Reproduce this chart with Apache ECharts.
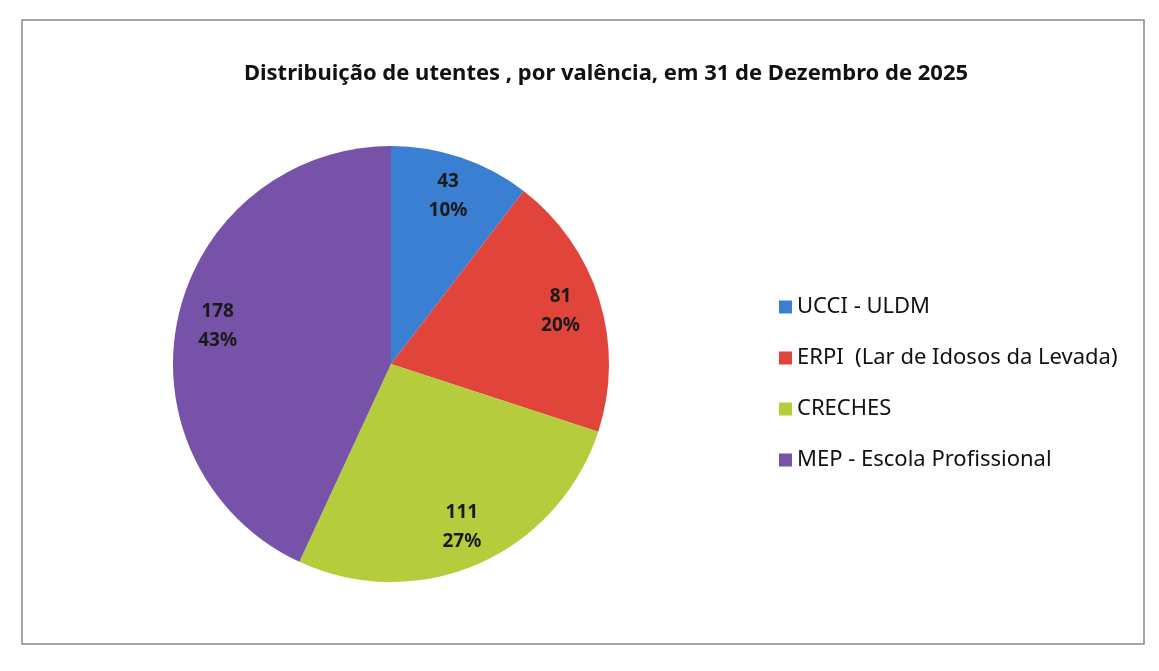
<!DOCTYPE html>
<html>
<head>
<meta charset="utf-8">
<script src="https://cdn.jsdelivr.net/npm/echarts@6/dist/echarts.min.js"></script>
<style>
  html, body { margin: 0; padding: 0; background: #fff; }
  #main { width: 1159px; height: 671px; }
</style>
</head>
<body>
<div id="main"></div>
<script>
const categories = ['UCCI - ULDM', 'ERPI  (Lar de Idosos da Levada)', 'CRECHES', 'MEP - Escola Profissional']
const values = [43, 81, 111, 178]
const colors = ['#3b7fd2', '#e0443a', '#b5cd3c', '#7652a9']

const pieData = categories.map((name, i) => ({ name: name, value: values[i] }))

const chart = echarts.init(document.getElementById('main'))
const option = {
  backgroundColor: '#fff',
  title: {
    text: 'Distribuição de utentes , por valência, em 31 de Dezembro de 2025',
    left: 601,
    top: 58,
    textAlign: 'center',
    textStyle: {
      fontFamily: 'Noto Sans',
      fontSize: 22,
      fontWeight: 'bold',
      color: '#111'
    }
  },
  color: colors,
  legend: {
    orient: 'vertical',
    left: 774,
    top: 291,
    icon: 'rect',
    itemWidth: 13,
    itemHeight: 13,
    itemGap: 29,
    data: categories,
    textStyle: {
      fontFamily: 'Noto Sans',
      fontSize: 22,
      color: '#111'
    }
  },
  graphic: [
    {
      type: 'rect',
      shape: { x: 22, y: 20, width: 1122, height: 624 },
      style: { fill: 'none', stroke: '#888', lineWidth: 1.5 }
    }
  ],
  series: [
    {
      // coloured slices
      name: 'utentes',
      type: 'pie',
      center: [391, 364],
      radius: [0, 218],
      startAngle: 90,
      clockwise: true,
      label: { show: false },
      labelLine: { show: false },
      itemStyle: { borderWidth: 0 },
      emphasis: { disabled: true },
      data: pieData
    },
    {
      // transparent ring that only carries the labels at ~0.8 r
      name: 'labels',
      type: 'pie',
      center: [391, 364],
      radius: [131, 218],
      startAngle: 90,
      clockwise: true,
      silent: true,
      percentPrecision: 0,
      itemStyle: { color: 'rgba(0,0,0,0)', borderWidth: 0 },
      label: {
        show: true,
        position: 'inside',
        formatter: '{c}\n{d}%',
        fontFamily: 'Noto Sans',
        fontSize: 19,
        fontWeight: 'bold',
        lineHeight: 29,
        color: '#1a1a1a'
      },
      labelLine: { show: false },
      emphasis: { disabled: true },
      data: pieData
    }
  ]
}
chart.setOption(option)
</script>
</body>
</html>
